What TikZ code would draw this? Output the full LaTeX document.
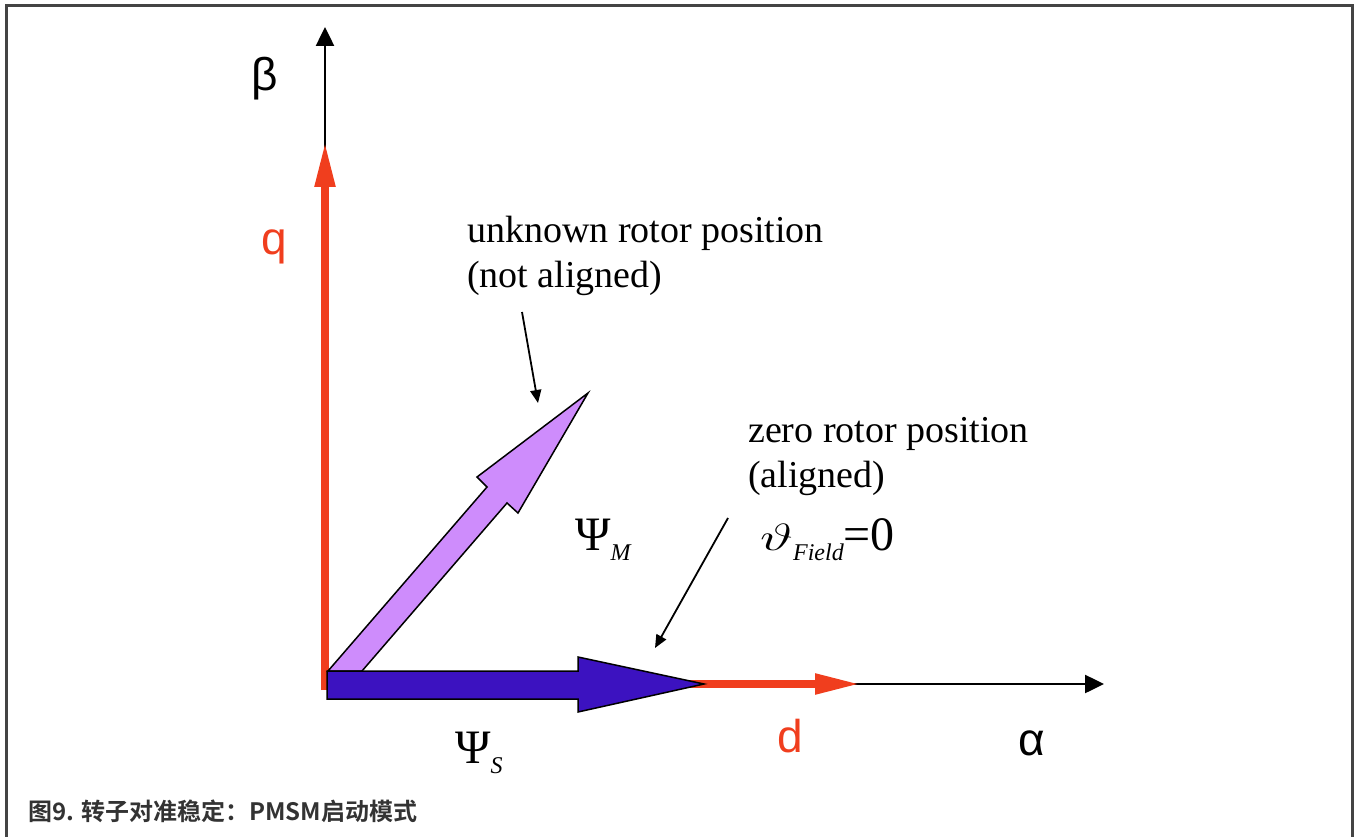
\documentclass[tikz,border=0pt]{standalone}
\usepackage{fix-cm}
\usepackage{fontspec}
\setmainfont{Liberation Serif}
\newfontfamily\axisfont{Liberation Sans}
\newfontfamily\cjkfont{Noto Sans CJK SC}[BoldFont={Noto Sans CJK SC Bold}]
\usepackage{tikz}
\usetikzlibrary{arrows.meta,positioning}
\definecolor{axisRed}{RGB}{240,62,30}
\definecolor{fluxBlue}{RGB}{60,18,192}
\definecolor{fluxViolet}{RGB}{206,140,252}
\definecolor{frameGray}{RGB}{68,68,68}
\definecolor{captionInk}{RGB}{51,51,51}
\newcommand{\fluxsub}[1]{\raisebox{-10pt}{\fontsize{24}{26}\selectfont\itshape #1}}
\newcommand{\fieldangle}{\scalebox{1.5}[1]{\fontsize{38}{40}\selectfont$\vartheta$}}
\tikzset{
  frameline/.style={draw=frameGray, line width=3pt},
  axisline/.style={draw=black, line width=2.5pt, -{Triangle[length=19pt,width=18pt]}},
  dqline/.style={draw=axisRed, line width=8pt, -{Triangle[length=46pt,width=19pt]}},
  pointer/.style={draw=black, line width=1.8pt, -{Triangle[length=13pt,width=11pt]}},
  fluxS/.style={fill=fluxBlue, draw=black, line width=1.5pt, line join=miter},
  fluxM/.style={fill=fluxViolet, draw=black, line width=1.5pt, line join=miter},
  greeklabel/.style={inner sep=0pt, anchor=base, font=\axisfont\fontsize{46}{48}\selectfont},
  redlabel/.style={greeklabel, text=axisRed},
  notetext/.style={inner sep=0pt, anchor=base west, font=\fontsize{38}{45}\selectfont},
  psilabel/.style={inner sep=0pt, anchor=base west, font=\fontsize{48}{50}\selectfont},
  captiontext/.style={inner sep=0pt, anchor=base west, text=captionInk, font=\cjkfont\bfseries\fontsize{24}{28}\selectfont}
}
\begin{document}
\begin{tikzpicture}[x=1pt, y=-1pt]
  \useasboundingbox (0,0) rectangle (1354,837);
  \draw[frameline] (6,837) -- (6,5.5) -- (1352.5,5.5) -- (1352.5,837);

  % axes and the d/q frame
  \coordinate (O) at (325,684);
  \coordinate (betaEnd) at (325,27);
  \coordinate (alphaEnd) at (1104,684);
  \coordinate (qEnd) at (325,141);
  \coordinate (dEnd) at (861,684);
  \draw[axisline] (O) -- (betaEnd);
  \draw[axisline] (O) -- (alphaEnd);
  \draw[dqline] ([yshift=-6pt]O) -- (qEnd);
  \draw[dqline] ([xshift=-4pt]O) -- (dEnd);

  % flux vectors
  \filldraw[fluxM] (328,671) -- (487,487) -- (477,477) -- (588,393)
    -- (518,513) -- (507,503) -- (362,671) -- cycle;
  \filldraw[fluxS] (327,671) -- (578,671) -- (578,657) -- (704,684)
    -- (578,712) -- (578,699) -- (327,699) -- cycle;

  % labels
  \node[greeklabel] (beta) at (265,91) {β};
  \node[redlabel] (q) at (274,254) {q};
  \node[redlabel] (d) at (790,752) {d};
  \node[greeklabel] (alpha) at (1032,755) {α};
  \node[psilabel] (psiM) at (575,550) {Ψ\fluxsub{M}};
  \node[psilabel] (psiS) at (455,763) {Ψ\fluxsub{S}};

  \node[notetext] (unknownA) at (467,242) {unknown rotor position};
  \node[notetext, below=45pt of unknownA.base west, anchor=base west] (unknownB) {(not aligned)};
  \node[notetext] (zeroA) at (748,442) {zero rotor position};
  \node[notetext, below=45pt of zeroA.base west, anchor=base west] (zeroB) {(aligned)};
  \node[psilabel] (theta) at (760,550) {\fieldangle\fluxsub{Field}=0};

  \coordinate (unknownFrom) at (522,312);
  \coordinate (unknownTo) at (538,403);
  \coordinate (zeroFrom) at (728,518);
  \coordinate (zeroTo) at (655,648);
  \draw[pointer] (unknownFrom) -- (unknownTo);
  \draw[pointer] (zeroFrom) -- (zeroTo);

  \node[captiontext] (caption) at (28,820) {图9. 转子对准稳定：PMSM启动模式};
\end{tikzpicture}
\end{document}
